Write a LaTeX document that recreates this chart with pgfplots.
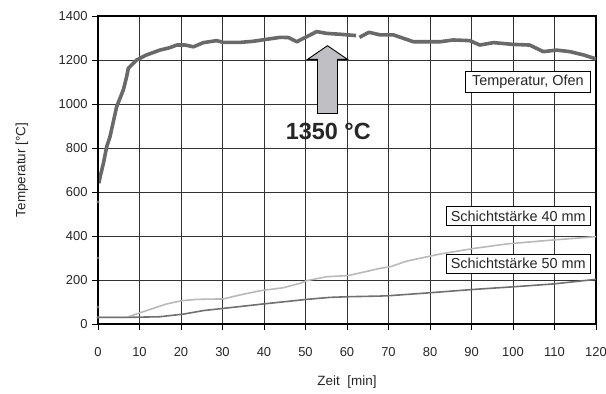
\documentclass[border=0pt]{standalone}
\usepackage{pgfplots}
\pgfplotsset{compat=1.18}
\usepackage{fontspec}
\setmainfont{Liberation Sans}
\definecolor{oven}{RGB}{105,105,105}
\definecolor{light}{RGB}{185,185,185}
\definecolor{dark}{RGB}{112,112,112}
\definecolor{arrowfill}{RGB}{192,192,196}
\begin{document}
\begin{tikzpicture}
\path[use as bounding box] (-98bp,-70bp) rectangle (508bp,324bp);
\begin{axis}[
  scale only axis, width=498bp, height=308bp, at={(0,0)}, anchor=south west,
  xmin=0, xmax=120, ymin=0, ymax=1400,
  xtick={0,10,...,120}, ytick={0,200,...,1400},
  grid=major, major grid style={black!80, line width=0.7bp},
  axis line style={line width=1.6bp},
  tick align=outside, xtick pos=bottom, ytick pos=left,
  major tick length=6bp, tick style={black, line width=0.8bp},
  /pgf/number format/assume math mode=true,
  /pgf/number format/1000 sep={},
  tick label style={font=\fontsize{13}{15}\selectfont, text=black!85},
  xticklabel style={yshift=-14bp},
  yticklabel style={xshift=-1bp},
  xlabel={Zeit\ \ [min]}, ylabel={Temperatur [°C]},
  label style={font=\fontsize{13.5}{15}\selectfont, text=black!85},
  xlabel style={at={(axis description cs:0.5,-0.188)}, anchor=center},
  ylabel style={at={(axis description cs:-0.153,0.5)}, anchor=center, rotate=0},
]
% Schichtstaerke 40 mm
\addplot[light, line width=1.6bp] coordinates {
(0,30)(6.9,30)(10.1,51)(16.5,91)(20.2,106)(23.8,112)(30.2,114)(34.2,132)(39,151)(44.7,165)(48.7,185)(50.3,197)(55.1,215)(60.3,220)(68,253)(70.4,260)(74.4,286)(82.4,318)(90.4,343)(98.5,364)(109.7,382)(120,397)};
% Schichtstaerke 50 mm
\addplot[dark, line width=1.6bp] coordinates {
(0,30)(6.9,30)(14.9,33)(20.6,45)(25.4,61)(30.2,71)(39.8,91)(50.3,112)(55.9,121)(60.3,124)(68,127)(70.4,129)(80,142)(90.4,157)(100,169)(109.7,182)(120,203)};
% Ofen
\addplot[oven, line width=3.6bp, line join=round] coordinates {
(0.2,640)(0.5,668)(1.3,730)(2.1,806)(2.9,852)(4.5,988)(6.1,1064)(6.9,1124)(7.3,1162)(9.3,1200)(11.7,1223)(14.9,1245)(17.3,1256)(19,1268)(21,1268)(23,1260)(25.4,1279)(28.6,1288)(30.2,1280)(34.2,1280)(37.4,1285)(40.6,1294)(43.9,1303)(45.9,1302)(47.9,1283)(52.7,1329)(55.1,1321)(58.3,1317)(62.2,1311)};
\addplot[oven, line width=3.6bp, line join=round] coordinates {
(63.0,1303)(65.3,1326)(68,1314)(71.2,1314)(76,1283)(82.4,1283)(85.6,1291)(89.6,1288)(92,1268)(95.3,1279)(100,1271)(104,1268)(107.3,1238)(110.5,1245)(113.7,1238)(117,1223)(120,1205)};
\addplot[only marks, mark=*, mark size=1.2bp, oven] coordinates {(0,555)(0,300)(0,77)(0,30)};
\draw[black, line width=2.8bp] (rel axis cs:0,0) -- (rel axis cs:0,1);
\draw[fill=arrowfill, draw=black, line width=0.9bp] (axis cs:52.9,957) -- (axis cs:52.9,1203) -- (axis cs:50.5,1203) -- (axis cs:55.3,1265) -- (axis cs:60.1,1203) -- (axis cs:57.7,1203) -- (axis cs:57.7,957) -- cycle;
\node[font=\fontsize{23.5}{25}\selectfont\bfseries, text=black!85] at (axis cs:55.5,877) {1350 °C};
\node[draw=black, fill=white, line width=0.6bp, font=\fontsize{14.5}{16}\selectfont, text=black!85, anchor=east, inner xsep=7bp, inner ysep=4bp] at (axis cs:118.8,1100) {Temperatur, Ofen};
\node[draw=black, fill=white, line width=0.6bp, font=\fontsize{14.5}{16}\selectfont, text=black!85, anchor=east, inner xsep=5bp, inner ysep=4.5bp] at (axis cs:118.8,491) {Schichtstärke 40 mm};
\node[draw=black, fill=white, line width=0.6bp, font=\fontsize{14.5}{16}\selectfont, text=black!85, anchor=east, inner xsep=5bp, inner ysep=4.5bp] at (axis cs:118.8,274) {Schichtstärke 50 mm};
\end{axis}
\end{tikzpicture}
\end{document}
